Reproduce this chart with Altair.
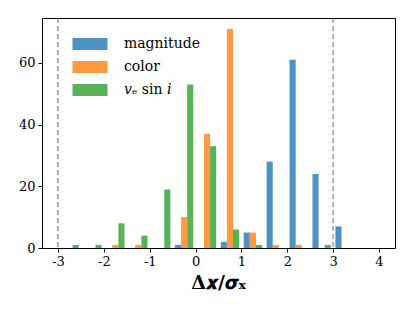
import altair as alt
import pandas as pd

bin_edges = [-3.0, -2.5, -2.0, -1.5, -1.0, -0.5, 0.0, 0.5, 1.0, 1.5, 2.0, 2.5, 3.0, 3.5]
bin_width = 0.5
series = ["magnitude", "color", "𝑣ₑ sin 𝑖"]
magnitude = [0, 0, 0, 0, 0, 1, 0, 2, 5, 28, 61, 24, 7, 0]
color = [0, 0, 1, 1, 0, 10, 37, 71, 5, 1, 1, 0, 0, 0]
vsini = [1, 1, 8, 4, 19, 53, 33, 6, 1, 0, 0, 1, 0, 0]
colors = ["#4c92c3", "#ff993e", "#56b356"]
cutoffs = [-3, 3]

FONT = "DejaVu Serif"

rows = []
w = 0.8 * bin_width / len(series)
for j, (name, counts) in enumerate(zip(series, [magnitude, color, vsini])):
    for e, c in zip(bin_edges, counts):
        if c > 0:
            x0 = e + 0.1 * bin_width + j * w
            rows.append({"series": name, "x0": x0, "x1": x0 + w, "count": c, "order": j})
df = pd.DataFrame(rows)

xscale = alt.Scale(domain=[-3.35, 4.35], nice=False, zero=False)
yscale = alt.Scale(domain=[0, 74.55], nice=False)

bars = alt.Chart(df).mark_bar(opacity=1).encode(
    x=alt.X("x0:Q", scale=xscale,
            axis=alt.Axis(values=list(range(-3, 5)), title="𝚫𝒙/𝝈ₓ",
                          labelExpr="replace(datum.label, '−', '-')",
                          titleFontSize=19, titleFontWeight="bold", titlePadding=5)),
    x2="x1:Q",
    y=alt.Y("count:Q", scale=yscale, axis=alt.Axis(values=[0, 20, 40, 60], title=None)),
    y2=alt.datum(0),
    color=alt.Color("series:N",
                    scale=alt.Scale(domain=series, range=colors),
                    legend=alt.Legend(title=None, orient="none", legendX=36, legendY=14,
                                      symbolType="M-1.458,-0.5H1.458V0.5H-1.458Z",
                                      symbolSize=576, symbolStrokeWidth=0,
                                      labelOffset=22, labelFontSize=14, labelFont=FONT,
                                      rowPadding=4, labelColor="black")),
)

rules = alt.Chart(pd.DataFrame({"v": cutoffs})).mark_rule(
    color="#808080", strokeDash=[5, 3], strokeWidth=1.2
).encode(x=alt.X("v:Q", scale=xscale))

chart = alt.layer(rules, bars).properties(
    width=353, height=230,
    autosize=alt.AutoSizeParams(type="none"),
    padding={"left": 34, "top": 10, "right": 12, "bottom": 55},
).configure(font=FONT).configure_view(stroke="black", strokeWidth=1).configure_axis(
    grid=False, domain=False, tickColor="black", tickSize=4,
    labelFont=FONT, titleFont=FONT, labelFontSize=13, labelColor="black",
    titleColor="black", labelPadding=3,
).configure_legend(labelFont=FONT)

chart.save("out.html", embed_options={"renderer": "svg", "actions": False})
